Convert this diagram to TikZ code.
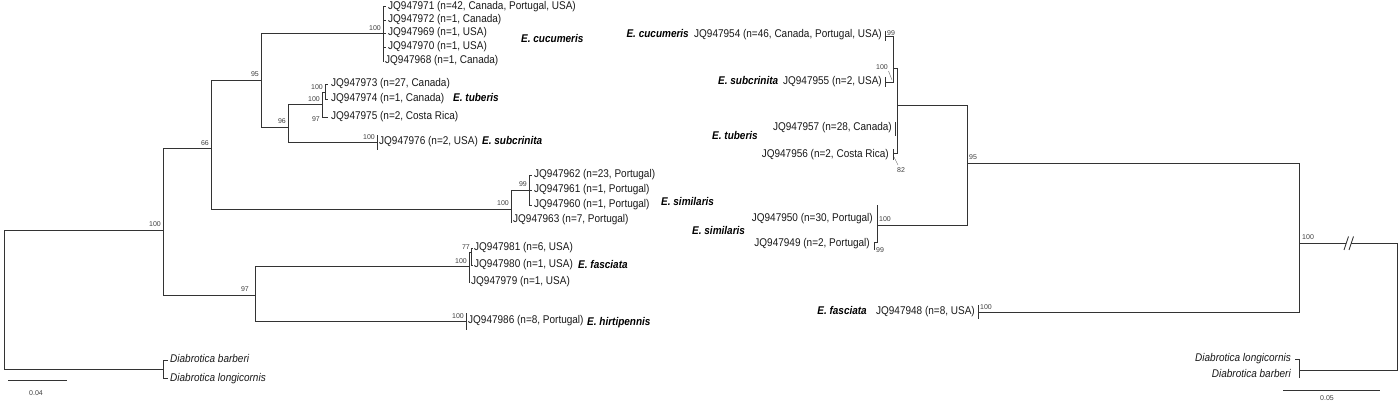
\documentclass[tikz,border=0pt]{standalone}
\usepackage{fontspec}
\usepackage{graphicx}
\setmainfont{Liberation Sans}
\newcommand{\tl}[1]{\scalebox{1}[1.12]{#1}}
\begin{document}
\begin{tikzpicture}[x=1pt,y=-1pt,
  br/.style={draw=black!80,line width=0.9pt},
  tk/.style={draw=black!80,line width=0.8pt},
  lead/.style={draw=black!60,line width=0.4pt},
  tip/.style={font=\fontsize{10}{12}\selectfont,text=black!90,inner sep=0pt,anchor=mid west},
  tipr/.style={tip,anchor=mid east},
  dia/.style={tip,font=\fontsize{10}{12}\selectfont\itshape},
  diar/.style={dia,anchor=mid east},
  sp/.style={font=\fontsize{7}{8}\selectfont,text=black!75,inner sep=0pt,anchor=mid east},
  spl/.style={sp,anchor=mid west},
  spc/.style={sp,anchor=center},
  sps/.style={font=\fontsize{10}{12}\selectfont\bfseries\itshape,text=black,inner sep=0pt,anchor=mid west},
  spsr/.style={sps,anchor=mid east}]
\useasboundingbox (0,0) rectangle (1400,404);
\fill[white] (0,0) rectangle (1400,404);

%% ================= LEFT TREE =================
\coordinate (LR) at (4,300);
\coordinate (L100) at (163,230);
\coordinate (Lout) at (163,369);
\draw[br] (LR) |- (L100);
\draw[br] (LR) |- (Lout);
\coordinate (L66) at (211,148);
\coordinate (L97) at (255,295);
\draw[br] (L100) |- (L66);
\draw[br] (L100) |- (L97);
\coordinate (L95) at (261,80);
\coordinate (LS100) at (511,209);
\draw[br] (L66) |- (L95);
\draw[br] (L66) |- (LS100);
\coordinate (Lcuc) at (383,33);
\coordinate (L96) at (288,127);
\draw[br] (L95) |- (Lcuc);
\draw[br] (L95) |- (L96);
% cucumeris tips
\coordinate (c1) at (386,6);
\coordinate (c2) at (386,20);
\coordinate (c3) at (386,33);
\coordinate (c4) at (386,47);
\coordinate (c5) at (383,62);
\foreach \c in {c1,c2,c3,c4,c5} \draw[br] (Lcuc) |- (\c);
\node[tip] (lc1) at (388,7) {\tl{JQ947971 (n=42, Canada, Portugal, USA)}};
\node[tip] (lc2) at (388,20) {\tl{JQ947972 (n=1, Canada)}};
\node[tip] (lc3) at (388,33) {\tl{JQ947969 (n=1, USA)}};
\node[tip] (lc4) at (388,47) {\tl{JQ947970 (n=1, USA)}};
\node[tip] (lc5) at (385,61) {\tl{JQ947968 (n=1, Canada)}};
\node[sps] (scuc) at (521,40) {\tl{E. cucumeris}};
% tuberis / subcrinita
\coordinate (Ltub) at (322,104);
\coordinate (Lsub) at (377,142);
\draw[br] (L96) |- (Ltub);
\draw[br] (L96) |- (Lsub);
\coordinate (Ltub2) at (325,92);
\coordinate (t3) at (328,117);
\draw[br] (Ltub) |- (Ltub2);
\draw[br] (Ltub) |- (t3);
\coordinate (t1) at (328,84);
\coordinate (t2) at (328,99);
\draw[br] (Ltub2) |- (t1);
\draw[br] (Ltub2) |- (t2);
\node[tip] (lt1) at (331,84) {\tl{JQ947973 (n=27, Canada)}};
\node[tip] (lt2) at (331,99) {\tl{JQ947974 (n=1, Canada)}};
\node[tip] (lt3) at (331,117) {\tl{JQ947975 (n=2, Costa Rica)}};
\node[sps] (stub) at (453,99) {\tl{E. tuberis}};
\coordinate (Lsuba) at (377,135);
\coordinate (Lsubb) at (377,150);
\draw[br] (Lsuba) -- (Lsubb);
\node[tip] (ls1) at (379,142) {\tl{JQ947976 (n=2, USA)}};
\node[sps] (ssub) at (482,142) {\tl{E. subcrinita}};
% similaris
\coordinate (LS99) at (529,190);
\coordinate (s4) at (511,223);
\draw[br] (LS100) |- (LS99);
\draw[br] (LS100) -- (s4);
\coordinate (s1) at (532,175);
\coordinate (s2) at (532,190);
\coordinate (s3) at (532,205);
\foreach \s in {s1,s2,s3} \draw[br] (LS99) |- (\s);
\node[tip] (ls1s) at (534,175) {\tl{JQ947962 (n=23, Portugal)}};
\node[tip] (ls2s) at (534,190) {\tl{JQ947961 (n=1, Portugal)}};
\node[tip] (ls3s) at (534,205) {\tl{JQ947960 (n=1, Portugal)}};
\node[tip] (ls4s) at (513,220) {\tl{JQ947963 (n=7, Portugal)}};
\node[sps] (ssim) at (661,203) {\tl{E. similaris}};
% fasciata / hirtipennis
\coordinate (LF) at (469,266);
\coordinate (LH) at (466,321);
\draw[br] (L97) |- (LF);
\draw[br] (L97) |- (LH);
\coordinate (LF77) at (471,252);
\coordinate (f3) at (469,283);
\draw[br] (LF) |- (LF77);
\draw[br] (LF) -- (f3);
\coordinate (f1) at (473,248);
\coordinate (f2) at (473,265);
\draw[br] (LF77) |- (f1);
\draw[br] (LF77) |- (f2);
\node[tip] (lf1) at (474,248) {\tl{JQ947981 (n=6, USA)}};
\node[tip] (lf2) at (474,265) {\tl{JQ947980 (n=1, USA)}};
\node[tip] (lf3) at (471,282) {\tl{JQ947979 (n=1, USA)}};
\node[sps] (sfas) at (578,266) {\tl{E. fasciata}};
\coordinate (LHa) at (466,313);
\coordinate (LHb) at (466,330);
\draw[br] (LHa) -- (LHb);
\node[tip] (lh1) at (468,321) {\tl{JQ947986 (n=8, Portugal)}};
\node[sps] (shir) at (587,323) {\tl{E. hirtipennis}};
% outgroup
\coordinate (o1) at (168,360);
\coordinate (o2) at (168,378);
\draw[br] (Lout) |- (o1);
\draw[br] (Lout) |- (o2);
\node[dia] (lo1) at (170,360) {\tl{Diabrotica barberi}};
\node[dia] (lo2) at (170,379) {\tl{Diabrotica longicornis}};
% support values
\node[sp] (b1) at (161,224) {100};
\node[sp] (b2) at (209,143) {66};
\node[sp] (b3) at (259,74) {95};
\node[sp] (b4) at (381,28) {100};
\node[sp] (b5) at (286,121) {96};
\node[sp] (b6) at (320,99) {100};
\node[sp] (b7) at (323,87) {100};
\node[sp] (b8) at (320,119) {97};
\node[sp] (b9) at (375,137) {100};
\node[sp] (b10) at (509,203) {100};
\node[sp] (b11) at (527,184) {99};
\node[sp] (b12) at (249,289) {97};
\node[sp] (b13) at (467,261) {100};
\node[sp] (b14) at (470,247) {77};
\node[sp] (b15) at (464,316) {100};
% scale bar
\coordinate (sb1) at (8,380);
\coordinate (sb2) at (67,380);
\draw[br] (sb1) -- (sb2);
\node[spc] (sbl) at (36,393) {0.04};

%% ================= RIGHT TREE =================
\coordinate (RR) at (1397,300);
\coordinate (brk2) at (1351,243);
\coordinate (brk1) at (1346,243);
\coordinate (R100) at (1299,243);
\coordinate (Rout) at (1299,370);
\draw[br] (RR) |- (brk2);
\draw[br] (brk1) -- (R100);
\draw[br] (1344,250) -- (1348.5,236.5);
\draw[br] (1349,250) -- (1353.5,236.5);
\draw[br] (RR) |- (Rout);
\coordinate (rlo) at (1295,359);
\coordinate (rbb) at (1299,378);
\draw[br] (Rout) |- (rlo);
\draw[br] (Rout) -- (rbb);
\node[diar] (rl1) at (1291,359) {\tl{Diabrotica longicornis}};
\node[diar] (rl2) at (1291,375) {\tl{Diabrotica barberi}};
\coordinate (R95) at (967,163);
\coordinate (RF) at (978,312);
\draw[br] (R100) |- (R95);
\draw[br] (R100) |- (RF);
\coordinate (RFa) at (978,305);
\coordinate (RFb) at (978,319);
\draw[br] (RFa) -- (RFb);
\node[tipr] (rf1) at (975,312) {\tl{JQ947948 (n=8, USA)}};
\node[spsr] (rsf) at (867,312) {\tl{E. fasciata}};
\coordinate (RT) at (897,105);
\coordinate (RS) at (877,225);
\draw[br] (R95) |- (RT);
\draw[br] (R95) |- (RS);
\coordinate (RC1) at (893,68);
\coordinate (RT956) at (893,153);
\draw[br] (RT) |- (RC1);
\draw[br] (RT) |- (RT956);
\coordinate (r954) at (885,36);
\coordinate (r955) at (885,82);
\draw[br] (RC1) |- (r954);
\draw[br] (RC1) |- (r955);
\draw[tk] (885,31) -- (885,41);
\draw[tk] (885,77) -- (885,87);
\draw[tk] (893,149) -- (893,160);
\draw[tk] (895.5,122) -- (895.5,136);
\node[tipr] (r1) at (882,35) {\tl{JQ947954 (n=46, Canada, Portugal, USA)}};
\node[tipr] (r2) at (882,82) {\tl{JQ947955 (n=2, USA)}};
\node[tipr] (r3) at (892,128) {\tl{JQ947957 (n=28, Canada)}};
\node[tipr] (r4) at (889,155) {\tl{JQ947956 (n=2, Costa Rica)}};
\node[spsr] (rsc) at (689,35) {\tl{E. cucumeris}};
\node[sps] (rss) at (718,82) {\tl{E. subcrinita}};
\node[sps] (rst) at (712,137) {\tl{E. tuberis}};
% similaris right
\coordinate (RSa) at (877,205);
\coordinate (r949) at (874,242);
\draw[br] (RS) -- (RSa);
\draw[br] (RS) |- (r949);
\draw[tk] (874,242) -- (874,250);
\node[tipr] (r5) at (873,219) {\tl{JQ947950 (n=30, Portugal)}};
\node[tipr] (r6) at (870,244) {\tl{JQ947949 (n=2, Portugal)}};
\node[sps] (rsm) at (692,232) {\tl{E. similaris}};
% support values right
\node[spl] (q1) at (1302,237) {100};
\node[spl] (q2) at (969,157) {95};
\node[spl] (q3) at (980,307) {100};
\node[spl] (q4) at (887,33) {99};
\node[sp] (q5) at (888,67) {100};
\coordinate (q5a) at (888.5,71);
\coordinate (q5b) at (892,80);
\draw[lead] (q5a) -- (q5b);
\node[spl] (q6) at (897,170) {82};
\coordinate (q6a) at (894,157);
\coordinate (q6b) at (898,165);
\draw[lead] (q6a) -- (q6b);
\node[spl] (q7) at (879,219) {100};
\node[spl] (q8) at (876,250) {99};
% scale bar right
\coordinate (sr1) at (1283,390);
\coordinate (sr2) at (1380,390);
\draw[br] (sr1) -- (sr2);
\node[spc] (srl) at (1327,398) {0.05};
\end{tikzpicture}
\end{document}
